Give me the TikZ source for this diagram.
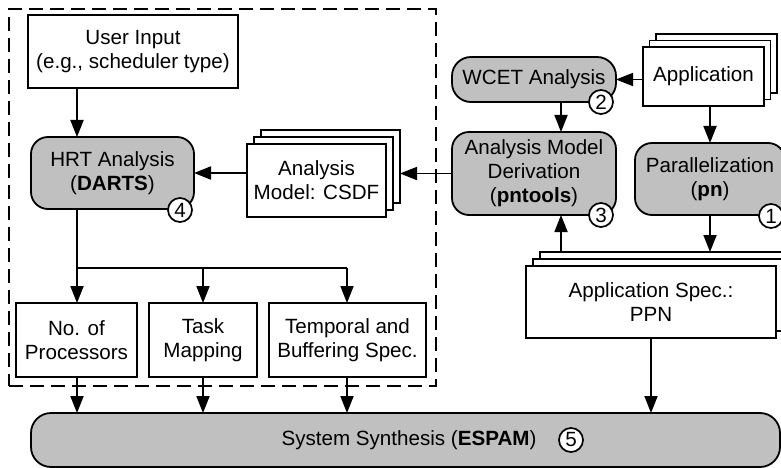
\documentclass[tikz,border=0pt]{standalone}
\usepackage{fontspec}
\setmainfont{Liberation Sans}
\usetikzlibrary{arrows.meta,calc}
\definecolor{boxgray}{RGB}{192,192,192}
\begin{document}
\begin{tikzpicture}[x=1pt,y=-1pt,
  font=\fontsize{20.6}{24}\selectfont,
  every node/.style={inner sep=0pt,outer sep=0pt,align=center},
  plainbox/.style={draw,line width=1.8pt,fill=white,rectangle},
  graybox/.style={draw,line width=1.8pt,fill=boxgray,rectangle,rounded corners=17pt},
  numcirc/.style={draw,line width=1.7pt,fill=white,circle,minimum size=24pt,font=\fontsize{20.6}{21}\selectfont},
  arr/.style={line width=1.8pt,-{Triangle[length=17pt,width=13pt]}},
  ln/.style={line width=1.8pt},
  dashbox/.style={draw,line width=1.6pt,dash pattern=on 14pt off 7pt}
]
\useasboundingbox (0,0) rectangle (781,468);
\clip (0,0) rectangle (781,468);

% column coordinates
\coordinate (colA) at (77,0);
\coordinate (colB) at (203,0);
\coordinate (colC) at (347,0);
\coordinate (colD) at (561,0);
\coordinate (colE) at (710,0);
\coordinate (split) at (0,268);

% dashed region
\node[dashbox,minimum width=427pt,minimum height=377pt] (region) at (222.5,197.5) {};

% left part
\node[plainbox,minimum width=210pt,minimum height=73pt] (ui) at (133,51.5) {User Input\\(e.g., scheduler type)};
\node[graybox,minimum width=163pt,minimum height=72pt] (hrt) at (112.5,173) {HRT Analysis\\(\textbf{DARTS})};
\node[numcirc] (n4) at (180,210) {4};

\node[plainbox,minimum width=139pt,minimum height=73pt] (csdf3) at (330.5,166.5) {};
\node[plainbox,minimum width=139pt,minimum height=73pt] (csdf2) at (323.5,173.5) {};
\node[plainbox,minimum width=139pt,minimum height=73pt] (csdf) at (316.5,180.5) {Analysis\\Model: CSDF};

\node[plainbox,minimum width=121pt,minimum height=74pt] (nop) at (76.5,340) {No. of\\Processors};
\node[plainbox,minimum width=108pt,minimum height=74pt] (tm) at (203,340) {Task\\Mapping};
\node[plainbox,minimum width=157pt,minimum height=74pt] (tbs) at (347.5,340) {Temporal and\\Buffering Spec.};

% right part
\node[plainbox,minimum width=121pt,minimum height=59pt] (app3) at (716.5,63.5) {};
\node[plainbox,minimum width=121pt,minimum height=59pt] (app2) at (710,70) {};
\node[plainbox,minimum width=121pt,minimum height=59pt] (app) at (703.5,76.5) {Application};

\node[graybox,minimum width=164pt,minimum height=45pt,rounded corners=19pt] (wcet) at (534,79.5) {WCET Analysis};
\node[numcirc] (n2) at (601,102) {2};

\node[graybox,minimum width=164pt,minimum height=83pt] (der) at (534,173.5) {Analysis Model\\Derivation\\(\textbf{pntools})};
\node[numcirc] (n3) at (601,215) {3};

\node[graybox,minimum width=150pt,minimum height=72pt] (par) at (710,179) {Parallelization\\(\textbf{pn})};
\node[numcirc] (n1) at (771,216) {1};

\node[plainbox,minimum width=250pt,minimum height=72pt] (ppn3) at (665,288) {};
\node[plainbox,minimum width=250pt,minimum height=72pt] (ppn2) at (658,295) {};
\node[plainbox,minimum width=250pt,minimum height=72pt] (ppn) at (651,302) {Application Spec.:\\PPN};

% synthesis
\node[graybox,minimum width=749pt,minimum height=54pt,rounded corners=20pt] (syn) at (405.5,440) {};
\node (syntext) at (409,440) {System Synthesis (\textbf{ESPAM})};
\node[numcirc] (n5) at (571,440) {5};

% connectors
\draw[arr] (colA |- ui.south) -- (colA |- hrt.north);
\draw[arr] (csdf.west |- hrt.east) -- (hrt.east);
\draw[arr] (der.west) -- (csdf3.east |- der.west);
\draw[arr] (app.west |- wcet.east) -- (wcet.east);
\draw[arr] (colD |- wcet.south) -- (colD |- der.north);
\draw[arr] (colE |- app.south) -- (par.north);
\draw[arr] (par.south) -- (colE |- ppn3.north);
\draw[arr] (colD |- ppn3.north) -- (colD |- der.south);
\draw[arr] (ppn.south) -- (ppn.south |- syn.north);

\draw[ln] (colA |- hrt.south) -- (colA |- split) -- (colC |- split);
\draw[arr] (colA |- split) -- (colA |- nop.north);
\draw[arr] (colB |- split) -- (colB |- tm.north);
\draw[arr] (colC |- split) -- (colC |- tbs.north);

\draw[arr] (colA |- nop.south) -- (colA |- syn.north);
\draw[arr] (colB |- tm.south) -- (colB |- syn.north);
\draw[arr] (colC |- tbs.south) -- (colC |- syn.north);
\end{tikzpicture}
\end{document}
